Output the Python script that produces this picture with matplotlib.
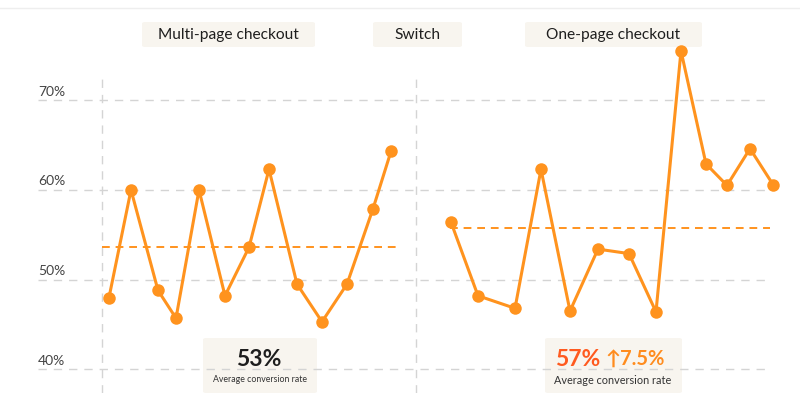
import matplotlib.pyplot as plt
from matplotlib.patches import FancyBboxPatch

# conversion rate (%) per day, before and after the checkout switch
day_before = [10.9, 13.1, 15.8, 17.6, 19.9, 22.5, 24.9, 26.9, 29.7, 32.2, 34.7, 37.3, 39.1]
rate_before = [48.0, 60.0, 48.8, 45.7, 60.0, 48.2, 53.6, 62.3, 49.5, 45.3, 49.5, 57.9, 64.3]
day_after = [45.1, 47.8, 51.5, 54.1, 57.0, 59.8, 62.9, 65.6, 68.1, 70.6, 72.7, 75.0, 77.3]
rate_after = [56.4, 48.2, 46.8, 62.3, 46.5, 53.4, 52.9, 46.4, 75.5, 62.9, 60.5, 64.6, 60.6]

avg_before = 53.6   # dashed average line, as drawn
avg_after = 55.7
avg_before_label = "53%"
avg_after_label = "57%"
lift_label = "7.5%"
switch_day = 41.6
start_day = 10.2

y_ticks = [40, 50, 60, 70]
y_tick_labels = ["40%", "50%", "60%", "70%"]
phase_labels = ["Multi-page checkout", "Switch", "One-page checkout"]

ORANGE = "#FF931E"
GRID = "#D4D4D4"
BOX = "#F8F5EF"
TEXT = "#1E1E1E"

plt.rcParams['font.family'] = ['Lato', 'DejaVu Sans']

fig = plt.figure(figsize=(8, 3.93), dpi=100)
ax = fig.add_axes([0, 0, 1, 1])
ax.set_xlim(0, 80)
ax.set_ylim(37.36, 81.17)
ax.axis('off')

# light separator at the very top
fig.add_artist(plt.Line2D([0, 1], [0.98, 0.98], color="#EEEEEE", lw=1))

# horizontal grid and tick labels
ax.hlines(y_ticks, 3.8, 76.6, colors=GRID, lw=1, linestyles=(0, (6, 5)), zorder=1)
for t, lab in zip(y_ticks, y_tick_labels):
    ax.text(3.8, t + 0.3, lab, fontsize=10, color="#444444", va='bottom', ha='left')

# vertical dividers: start of period and the switch
ax.vlines([start_day, switch_day], 37.36, 72.7, colors=GRID, lw=1,
          linestyles=(0, (6, 5)), zorder=1)

# average lines
ax.hlines(avg_before, start_day, 39.6, colors=ORANGE, lw=1.4, linestyles=(0, (4, 3)), zorder=2)
ax.hlines(avg_after, 45.0, 77.0, colors=ORANGE, lw=1.4, linestyles=(0, (4, 3)), zorder=2)

# the two series
for x, y in [(day_before, rate_before), (day_after, rate_after)]:
    ax.plot(x, y, color=ORANGE, lw=2.2, marker='o', markersize=9,
            markeredgewidth=0, zorder=3)

W, H = 800, 393


def box(x0, y0, x1, y1):
    # box given in pixels from the top-left corner
    p = FancyBboxPatch((x0 / W, 1 - y1 / H), (x1 - x0) / W, (y1 - y0) / H,
                       boxstyle="round,pad=0,rounding_size=0.004",
                       transform=fig.transFigure, facecolor=BOX, edgecolor='none',
                       zorder=0)
    fig.add_artist(p)


# phase labels along the top
top_boxes = [(142, 315), (373, 462), (525, 702)]
for (x0, x1), lab in zip(top_boxes, phase_labels):
    box(x0, 22, x1, 47)
    fig.text((x0 + x1) / 2 / W, 1 - 35 / H, lab, fontsize=11.2, color=TEXT,
             ha='center', va='center')

# average cards at the bottom
box(203, 338, 317, 393)
fig.text(259 / W, 1 - 359 / H, avg_before_label, fontsize=16.5, fontweight='bold',
         color=TEXT, ha='center', va='center')
fig.text(260 / W, 1 - 380 / H, "Average conversion rate", fontsize=6.3,
         color="#333333", ha='center', va='center')

box(545, 338, 682, 393)
fig.text(600 / W, 1 - 359 / H, avg_after_label, fontsize=16.5, fontweight='bold',
         color="#FF5A1F", ha='right', va='center')
fig.text(605 / W, 1 - 359 / H, "\u2191" + lift_label, fontsize=14.5, fontweight='bold',
         color="#FF8C1E", ha='left', va='center')
fig.text(613 / W, 1 - 380 / H, "Average conversion rate", fontsize=7.8,
         color="#333333", ha='center', va='center')

fig.savefig("out.png", dpi=100, facecolor='white')
